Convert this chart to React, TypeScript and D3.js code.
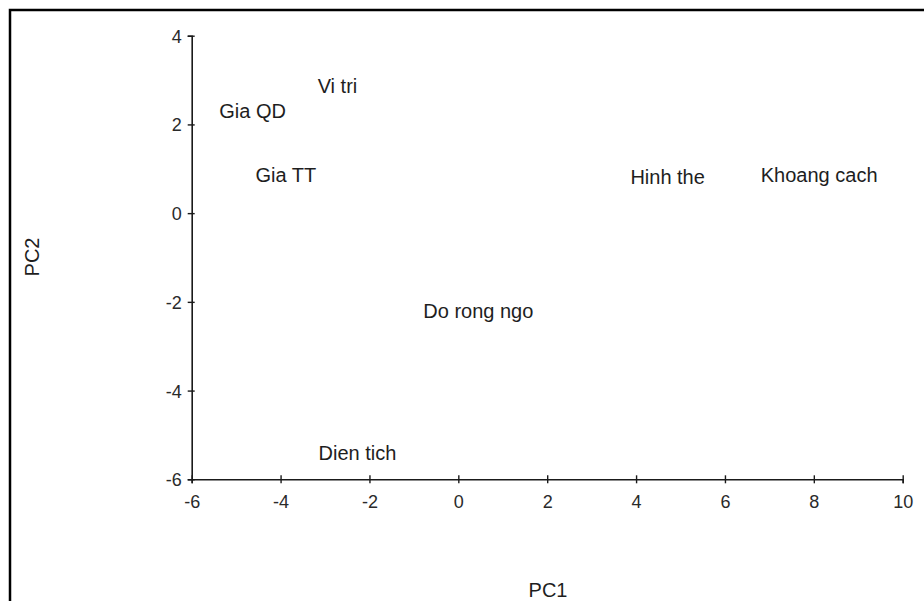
import { useRef, useEffect } from "react";
import { select, scaleLinear, axisBottom, axisLeft } from "d3";

// point labels and their PC scores
const names = ["Vi tri", "Gia QD", "Gia TT", "Hinh the", "Khoang cach", "Do rong ngo", "Dien tich"];
const pc1 = [-2.72, -4.63, -3.88, 4.71, 8.12, 0.45, -2.27];
const pc2 = [2.87, 2.31, 0.87, 0.83, 0.86, -2.21, -5.4];

const xTicks = [-6, -4, -2, 0, 2, 4, 6, 8, 10];
const yTicks = [-6, -4, -2, 0, 2, 4];

const W = 924;
const H = 601;
const FONT = "'Liberation Sans', Arial, sans-serif";

const App = () => {
  const svgRef = useRef(null);

  useEffect(() => {
    const svgEl = select(svgRef.current);
    svgEl.selectAll("*").remove();

    const x = scaleLinear().domain([-6, 10]).range([191.7, 902.7]);
    const y = scaleLinear().domain([-6, 4]).range([479.3, 35.7]);

    // outer frame, cut off at right and bottom
    svgEl
      .append("rect")
      .attr("x", 10)
      .attr("y", 10)
      .attr("width", W)
      .attr("height", H)
      .attr("fill", "none")
      .attr("stroke", "#000")
      .attr("stroke-width", 2.5);

    const xAxis = axisBottom(x).tickValues(xTicks).tickSize(4).tickFormat((v) => `${v}`);
    const xg = svgEl.append("g").attr("transform", `translate(0, ${y(-6)})`).call(xAxis);
    xg.select(".domain").attr("stroke", "#1a1a1a").attr("stroke-width", 1.6);
    xg.selectAll(".tick line").attr("y1", -4).attr("y2", 4).attr("stroke", "#1a1a1a").attr("stroke-width", 1.4);
    xg.selectAll("text")
      .attr("y", 29)
      .attr("dy", null)
      .attr("fill", "#2a2a2a")
      .style("font-family", FONT)
      .style("font-size", "18px");

    const yAxis = axisLeft(y).tickValues(yTicks).tickSize(4).tickFormat((v) => `${v}`);
    const yg = svgEl.append("g").attr("transform", `translate(${x(-6)}, 0)`).call(yAxis);
    yg.select(".domain").attr("stroke", "#1a1a1a").attr("stroke-width", 1.6);
    yg.selectAll(".tick line").attr("x1", -4).attr("x2", 3).attr("stroke", "#1a1a1a").attr("stroke-width", 1.4);
    yg.selectAll("text")
      .attr("x", -10)
      .attr("dy", "0.36em")
      .attr("fill", "#2a2a2a")
      .style("font-family", FONT)
      .style("font-size", "18px");

    // labels drawn at the scores
    svgEl
      .append("g")
      .selectAll("text")
      .data(names)
      .join("text")
      .attr("x", (d, i) => x(pc1[i]))
      .attr("y", (d, i) => y(pc2[i]) + 7.2)
      .attr("text-anchor", "middle")
      .attr("fill", "#1e1e1e")
      .style("font-family", FONT)
      .style("font-size", "20px")
      .text((d) => d);

    // axis titles
    svgEl
      .append("text")
      .attr("x", 548)
      .attr("y", 597)
      .attr("text-anchor", "middle")
      .attr("fill", "#1e1e1e")
      .style("font-family", FONT)
      .style("font-size", "20px")
      .text("PC1");

    svgEl
      .append("text")
      .attr("transform", `translate(38.5, 257) rotate(-90)`)
      .attr("text-anchor", "middle")
      .attr("fill", "#1e1e1e")
      .style("font-family", FONT)
      .style("font-size", "20px")
      .text("PC2");
  }, []);

  return (
    <svg
      ref={svgRef}
      width={W}
      height={H}
      style={{ position: "absolute", left: 0, top: 0, background: "#fff" }}
    ></svg>
  );
};

export default App;
